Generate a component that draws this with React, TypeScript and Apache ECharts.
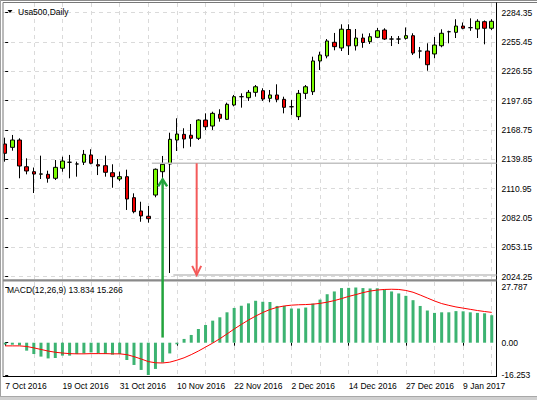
import React, { useEffect, useRef } from "react";
import * as echarts from "echarts";

const dates = [
  "7 Oct 2016", "10 Oct 2016", "11 Oct 2016", "12 Oct 2016", "13 Oct 2016", "14 Oct 2016", "17 Oct 2016", "18 Oct 2016",
  "19 Oct 2016", "20 Oct 2016", "21 Oct 2016", "24 Oct 2016", "25 Oct 2016", "26 Oct 2016", "27 Oct 2016", "28 Oct 2016",
  "31 Oct 2016", "1 Nov 2016", "2 Nov 2016", "3 Nov 2016", "4 Nov 2016", "7 Nov 2016", "8 Nov 2016", "9 Nov 2016",
  "10 Nov 2016", "11 Nov 2016", "14 Nov 2016", "15 Nov 2016", "16 Nov 2016", "17 Nov 2016", "18 Nov 2016", "21 Nov 2016",
  "22 Nov 2016", "23 Nov 2016", "24 Nov 2016", "25 Nov 2016", "28 Nov 2016", "29 Nov 2016", "30 Nov 2016", "1 Dec 2016",
  "2 Dec 2016", "5 Dec 2016", "6 Dec 2016", "7 Dec 2016", "8 Dec 2016", "9 Dec 2016", "12 Dec 2016", "13 Dec 2016",
  "14 Dec 2016", "15 Dec 2016", "16 Dec 2016", "19 Dec 2016", "20 Dec 2016", "21 Dec 2016", "22 Dec 2016", "23 Dec 2016",
  "27 Dec 2016", "28 Dec 2016", "29 Dec 2016", "30 Dec 2016", "3 Jan 2017", "4 Jan 2017", "5 Jan 2017", "6 Jan 2017",
  "9 Jan 2017", "10 Jan 2017", "11 Jan 2017", "12 Jan 2017", "13 Jan 2017",
];

const opens = [
  2155.0, 2151.7, 2158.9, 2132.6, 2127.7, 2125.3, 2125.1, 2121.2, 2131.1, 2137.0,
  2135.3, 2137.0, 2144.2, 2134.6, 2133.6, 2126.7, 2120.5, 2122.8, 2102.1, 2089.0,
  2083.8, 2104.7, 2127.7, 2135.3, 2158.9, 2164.5, 2163.6, 2160.6, 2178.6, 2172.7,
  2184.3, 2179.3, 2193.4, 2201.6, 2200.6, 2205.9, 2207.5, 2200.0, 2203.3, 2199.0,
  2191.7, 2181.9, 2204.9, 2206.5, 2236.8, 2241.7, 2255.2, 2249.6, 2267.8, 2251.7,
  2259.4, 2255.8, 2260.1, 2267.3, 2258.4, 2258.4, 2259.1, 2261.7, 2246.6, 2246.6,
  2243.7, 2251.8, 2265.6, 2265.0, 2271.2, 2269.6, 2268.3, 2275.5, 2269.0,
];
const closes = [
  2145.8, 2158.9, 2133.3, 2128.4, 2125.4, 2125.5, 2121.2, 2132.0, 2138.2, 2137.0,
  2135.3, 2144.8, 2136.0, 2133.3, 2127.1, 2122.8, 2122.8, 2100.8, 2088.3, 2084.1,
  2081.4, 2130.1, 2135.0, 2159.6, 2164.8, 2159.9, 2160.6, 2178.6, 2172.0, 2185.2,
  2180.3, 2194.1, 2201.6, 2201.6, 2205.9, 2211.4, 2199.3, 2203.3, 2199.0, 2191.1,
  2191.7, 2204.9, 2211.4, 2236.8, 2242.7, 2256.5, 2250.9, 2268.1, 2251.7, 2259.4,
  2255.0, 2260.7, 2266.6, 2258.4, 2258.4, 2258.4, 2261.7, 2244.6, 2246.6, 2233.1,
  2252.5, 2264.1, 2265.6, 2271.2, 2269.0, 2269.6, 2275.9, 2269.0, 2275.9,
];
const lows = [
  2137.6, 2148.4, 2121.2, 2125.1, 2106.7, 2120.5, 2116.9, 2119.5, 2127.7, 2121.2,
  2122.8, 2134.3, 2135.0, 2124.4, 2122.8, 2111.9, 2118.5, 2090.0, 2086.7, 2078.4,
  2077.5, 2102.5, 2121.2, 2027.9, 2148.1, 2150.8, 2152.3, 2158.9, 2168.8, 2168.8,
  2177.0, 2178.6, 2192.1, 2190.8, 2197.4, 2201.6, 2197.4, 2196.1, 2196.1, 2185.2,
  2183.6, 2178.6, 2199.3, 2203.3, 2227.9, 2239.4, 2247.3, 2246.6, 2242.7, 2247.1,
  2249.8, 2253.5, 2259.7, 2257.5, 2251.5, 2253.5, 2257.8, 2242.7, 2239.4, 2227.2,
  2239.4, 2250.3, 2254.2, 2259.4, 2268.0, 2266.5, 2259.4, 2253.2, 2267.3,
];
const highs = [
  2161.2, 2163.9, 2160.6, 2140.9, 2131.8, 2143.5, 2128.7, 2139.2, 2142.5, 2144.2,
  2137.6, 2149.1, 2149.8, 2140.2, 2143.5, 2135.0, 2127.7, 2129.7, 2106.4, 2098.1,
  2093.9, 2130.9, 2143.2, 2166.1, 2180.3, 2170.5, 2174.7, 2179.3, 2185.2, 2186.8,
  2189.2, 2195.7, 2203.3, 2204.9, 2208.2, 2213.1, 2209.9, 2208.2, 2213.8, 2201.6,
  2198.3, 2208.2, 2213.1, 2241.0, 2245.9, 2258.4, 2264.4, 2272.9, 2272.9, 2268.3,
  2263.7, 2264.1, 2269.3, 2269.0, 2261.4, 2261.4, 2269.8, 2264.1, 2250.6, 2254.2,
  2260.4, 2268.0, 2266.6, 2277.9, 2274.7, 2278.8, 2277.9, 2276.7, 2277.9,
];

const macdMain = [
  -0.9, -1.0, -1.3, -4.0, -5.7, -7.0, -7.9, -7.7, -6.5, -6.5,
  -5.7, -5.4, -4.9, -5.4, -5.7, -6.0, -5.7, -8.7, -11.2, -13.7,
  -16.253, -13.2, -10.0, -5.4, -0.8, 1.9, 3.9, 6.9, 8.9, 11.1,
  12.8, 15.3, 17.5, 18.6, 19.8, 21.1, 20.6, 20.5, 18.5, 18.5,
  17.2, 17.2, 17.7, 19.7, 21.7, 24.4, 25.8, 27.5, 27.6, 27.787,
  27.5, 27.3, 27.4, 26.8, 25.8, 24.8, 23.6, 21.4, 18.5, 16.2,
  15.0, 15.3, 15.3, 15.9, 15.8, 15.3, 15.0, 14.8, 13.834,
];
const macdSignal = [
  -1.6, -1.6, -1.6, -1.9, -2.6, -3.4, -4.2, -4.8, -5.2, -5.5,
  -5.6, -5.6, -5.5, -5.5, -5.5, -5.6, -5.6, -6.0, -7.0, -8.2,
  -9.5, -10.1, -10.2, -9.8, -8.8, -7.6, -6.0, -4.2, -2.2, -0.2,
  2.0, 4.4, 6.9, 9.2, 11.4, 13.4, 15.2, 16.7, 17.8, 18.5,
  18.9, 19.1, 19.2, 19.4, 19.8, 20.4, 21.2, 22.2, 23.3, 24.2,
  25.2, 26.0, 26.5, 26.8, 26.9, 26.8, 26.3, 25.4, 24.0, 22.5,
  21.0, 19.7, 18.8, 18.0, 17.4, 16.8, 16.2, 15.7, 15.266,
];

const priceTicks = [2024.25, 2053.15, 2082.05, 2110.95, 2139.85, 2168.75, 2197.65, 2226.55, 2255.45, 2284.35];
const macdTicks = [-16.253, 0, 27.787];
const gridBars = [4, 8, 12, 16, 20, 24, 28, 32, 36, 40, 44, 48, 52, 56, 60, 64, 68];
const labelBars = [0, 8, 16, 24, 32, 40, 48, 56, 64];

// annotation anchors (bar index, price / macd value)
const levelHigh = 2136.0;
const levelHighFrom = 20.5;
const levelLow = 2026.0;
const levelLowFrom = 23.5;
const greenArrowBar = 22;
const greenArrowTop = 2120.2;
const greenArrowBottom = 2.6;
const redArrowBar = 26.76;

const X_MIN = -0.3075;
const X_MAX = 68.665;
const Y_MIN = 2021.984;
const Y_MAX = 2293.907;
const M_MIN = -17.008;
const M_MAX = 30.555;

const FONT = "'Liberation Sans', Arial, sans-serif";
const FS = 8.5;

export default function App() {
  const ref = useRef<HTMLDivElement>(null);

  useEffect(() => {
    if (!ref.current) return;
    const chart = echarts.init(ref.current, null, { renderer: "svg" });
    const candleData = dates.map((_, i) => [i, opens[i], closes[i], lows[i], highs[i]]);
    const macdData = macdMain.map((v, i) => [i, v]);
    const signalData = macdSignal.map((v, i) => [i, v]);
    const dash = { color: "#dadada", type: [4, 4], width: 1 };
    const lbl = { fontFamily: FONT, fontSize: FS, color: "#000" };

    const option: any = {
      animation: false,
      backgroundColor: "#ffffff",
      textStyle: { fontFamily: FONT },
      grid: [
        { left: 3, top: 3, width: 493.5, height: 276 },
        { left: 3, top: 282, width: 493.5, height: 94.5 },
      ],
      xAxis: [
        {
          type: "value", gridIndex: 0, min: X_MIN, max: X_MAX,
          axisLine: { show: false }, axisLabel: { show: false },
          axisTick: { show: false, customValues: gridBars },
          splitLine: { show: true, lineStyle: dash },
        },
        {
          type: "value", gridIndex: 1, min: X_MIN, max: X_MAX,
          axisLine: { show: false },
          axisTick: { show: true, customValues: labelBars, length: 3, lineStyle: { color: "#000" } },
          axisLabel: {
            ...lbl, customValues: labelBars, align: "left", margin: 5,
            formatter: (v: number) => dates[Math.round(v)] ?? "",
          },
          splitLine: { show: false },
        },
        {
          type: "value", gridIndex: 1, min: X_MIN, max: X_MAX,
          axisLine: { show: false }, axisLabel: { show: false },
          axisTick: { show: false, customValues: gridBars },
          splitLine: { show: true, lineStyle: dash },
        },
      ],
      yAxis: [
        {
          type: "value", gridIndex: 0, position: "right", min: Y_MIN, max: Y_MAX,
          axisLine: { show: false },
          axisTick: { show: true, customValues: priceTicks, length: 3, lineStyle: { color: "#000" } },
          axisLabel: { ...lbl, customValues: priceTicks, margin: 5, formatter: (v: number) => v.toFixed(2) },
          splitLine: { show: true, lineStyle: dash },
        },
        {
          type: "value", gridIndex: 1, position: "right", min: M_MIN, max: M_MAX,
          axisLine: { show: false },
          axisTick: { show: true, customValues: macdTicks, length: 3, lineStyle: { color: "#000" } },
          axisLabel: {
            ...lbl, customValues: macdTicks, margin: 5,
            formatter: (v: number) => (v === 0 ? "0.00" : v.toFixed(3)),
          },
          splitLine: { show: false },
        },
      ],
      series: [
        {
          type: "candlestick", xAxisIndex: 0, yAxisIndex: 0, data: candleData,
          barWidth: 4, clip: false,
          itemStyle: {
            color: "#7cfc00", color0: "#f00000",
            borderColor: "#000", borderColor0: "#000", borderColorDoji: "#000", borderWidth: 1,
          },
        },
        {
          type: "bar", xAxisIndex: 1, yAxisIndex: 1, data: macdData, barWidth: 3,
          itemStyle: { color: "#3cb371" },
        },
        {
          type: "line", xAxisIndex: 1, yAxisIndex: 1, data: signalData,
          symbol: "none", showSymbol: false,
          lineStyle: { color: "#ff0000", width: 1 },
        },
      ],
    };
    chart.setOption(option);

    const p0 = (x: number, y: number) => chart.convertToPixel({ xAxisIndex: 0, yAxisIndex: 0 } as any, [x, y]) as number[];
    const p1 = (x: number, y: number) => chart.convertToPixel({ xAxisIndex: 1, yAxisIndex: 1 } as any, [x, y]) as number[];

    const hiA = p0(levelHighFrom, levelHigh), hiB = p0(X_MAX, levelHigh);
    const loA = p0(levelLowFrom, levelLow), loB = p0(X_MAX, levelLow);
    const gTop = p0(greenArrowBar, greenArrowTop), gBot = p1(greenArrowBar, greenArrowBottom);
    const rTop = p0(redArrowBar, levelHigh), rTip = p0(redArrowBar, levelLow);

    const Z = 100;
    const graphic: any[] = [
      // frame
      { type: "line", z: Z, shape: { x1: 0, y1: 0.5, x2: 537, y2: 0.5 }, style: { stroke: "#8c8c8c", lineWidth: 1 } },
      { type: "line", z: Z, shape: { x1: 0.5, y1: 0, x2: 0.5, y2: 400 }, style: { stroke: "#a0a0a0", lineWidth: 1 } },
      { type: "line", z: Z, shape: { x1: 3, y1: 2.5, x2: 537, y2: 2.5 }, style: { stroke: "#777", lineWidth: 1 } },
      { type: "line", z: Z, shape: { x1: 3, y1: 2.5, x2: 3, y2: 377 }, style: { stroke: "#777", lineWidth: 1 } },
      { type: "line", z: Z, shape: { x1: 496.5, y1: 2.5, x2: 496.5, y2: 377 }, style: { stroke: "#000", lineWidth: 1 } },
      { type: "line", z: Z, shape: { x1: 3, y1: 376.5, x2: 496.5, y2: 376.5 }, style: { stroke: "#000", lineWidth: 1 } },
      { type: "rect", z: Z, shape: { x: 3, y: 279.2, width: 493.5, height: 2.4 }, style: { fill: "#8a8a8a" } },
      { type: "rect", z: Z, shape: { x: 0, y: 396.5, width: 537, height: 3.5 }, style: { fill: "#d0d0d0" } },
      { type: "line", z: Z, shape: { x1: 0, y1: 396.5, x2: 537, y2: 396.5 }, style: { stroke: "#a8a8a8", lineWidth: 1 } },
      // title
      { type: "polygon", z: Z, shape: { points: [[7.5, 10], [12.5, 10], [10, 13]] }, style: { fill: "#000" } },
      { type: "text", z: Z, x: 18, y: 11.5, style: { text: "Usa500,Daily", fill: "#000", font: `${FS}px ${FONT}`, verticalAlign: "middle" } },
      {
        type: "text", z: Z, x: 7, y: 290,
        style: {
          text: `MACD(12,26,9) ${macdMain[macdMain.length - 1].toFixed(3)} ${macdSignal[macdSignal.length - 1].toFixed(3)}`,
          fill: "#000", font: `${FS}px ${FONT}`, verticalAlign: "middle",
        },
      },
      // level lines
      { type: "line", z: Z, shape: { x1: hiA[0], y1: hiA[1], x2: hiB[0], y2: hiB[1] }, style: { stroke: "#c2c2c2", lineWidth: 1.5 } },
      { type: "line", z: Z, shape: { x1: loA[0], y1: loA[1], x2: loB[0], y2: loB[1] }, style: { stroke: "#c2c2c2", lineWidth: 1.5 } },
      // green arrow
      { type: "line", z: Z + 1, shape: { x1: gBot[0], y1: gBot[1], x2: gTop[0], y2: gTop[1] }, style: { stroke: "#22a33c", lineWidth: 2.5 } },
      {
        type: "polyline", z: Z + 1,
        shape: { points: [[gTop[0] - 4.5, gTop[1] + 7], [gTop[0], gTop[1]], [gTop[0] + 4.5, gTop[1] + 7]] },
        style: { stroke: "#22a33c", lineWidth: 2.5, fill: "none" },
      },
      // red arrow
      { type: "line", z: Z + 1, shape: { x1: rTop[0], y1: rTop[1], x2: rTip[0], y2: rTip[1] }, style: { stroke: "#f45a5a", lineWidth: 2 } },
      {
        type: "polyline", z: Z + 1,
        shape: { points: [[rTip[0] - 4.5, rTip[1] - 9], [rTip[0], rTip[1]], [rTip[0] + 4.5, rTip[1] - 9]] },
        style: { stroke: "#f45a5a", lineWidth: 2, fill: "none" },
      },
    ];
    chart.setOption({ graphic });

    return () => chart.dispose();
  }, []);

  return (
    <div
      ref={ref}
      style={{ position: "fixed", left: 0, top: 0, width: 537, height: 400, background: "#fff" }}
    />
  );
}
